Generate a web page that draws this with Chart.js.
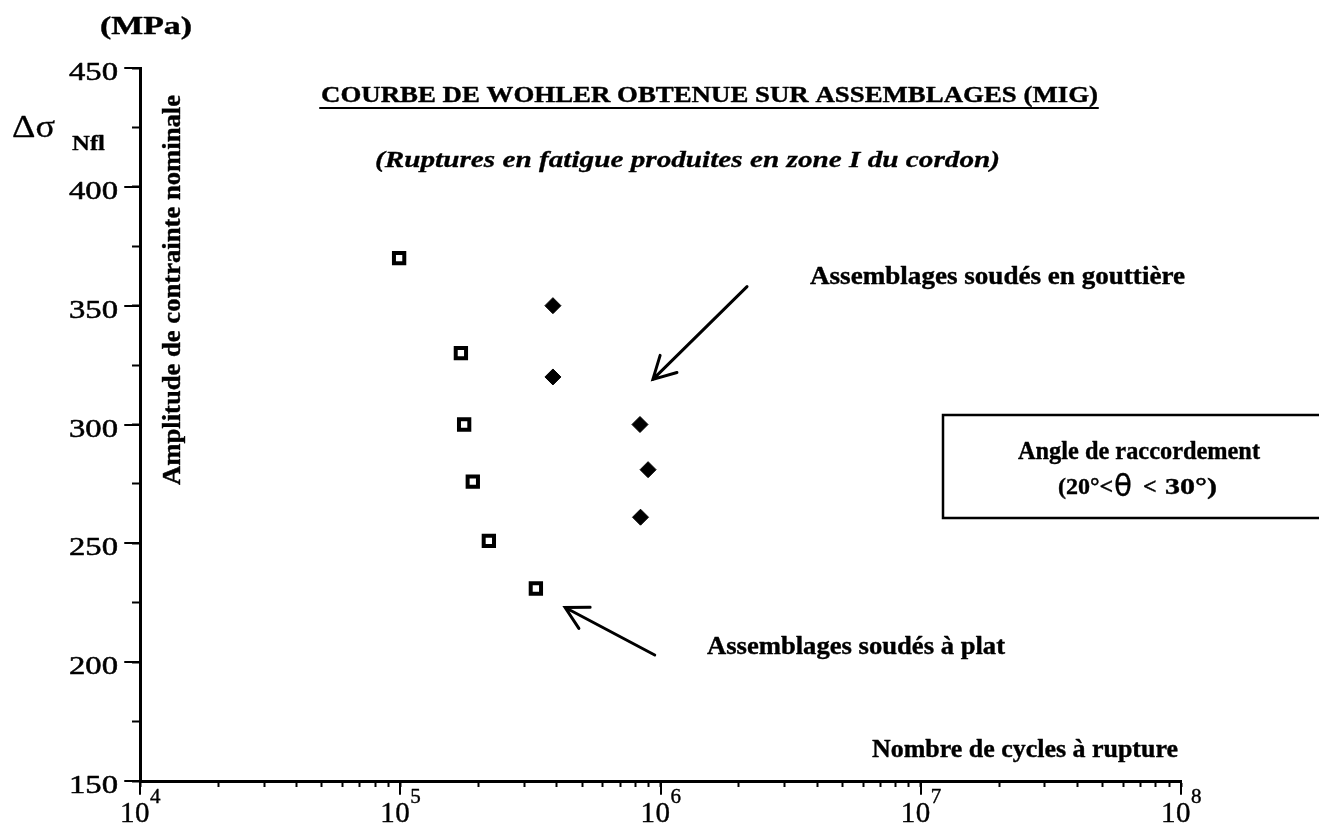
<!DOCTYPE html>
<html>
<head>
<meta charset="utf-8">
<title>Courbe de Wohler</title>
<script src="https://cdn.jsdelivr.net/npm/chart.js@4.4.1/dist/chart.umd.min.js"></script>
<style>
  html, body { margin: 0; padding: 0; background: #fff; }
  #wohler { display: block; }
</style>
</head>
<body>
<canvas id="wohler" width="1319" height="833"></canvas>
<script>
// essais de fatigue : nombre de cycles à rupture / amplitude (MPa)
const platCycles = [99000, 171000, 176000, 190000, 219000, 332000];
const platStress = [370, 330, 300, 276, 251, 231];
const goutCycles = [386000, 386000, 834000, 896000, 838000];
const goutStress = [350, 320, 300, 281, 261];

// axes
const xExponents = [4, 5, 6, 7, 8];
const xMinorSteps = [2, 3, 4, 5, 6, 7, 8, 9];
const yTickLabels = [150, 200, 250, 300, 350, 400, 450];

// flèches (coordonnées des données : cycles, MPa)
const arrowGout = { from: [2.15e6, 358], to: [9.35e5, 319] };
const arrowPlat = { from: [9.5e5, 203], to: [4.3e5, 223] };

const SERIF = '"Liberation Serif", "Times New Roman", Times, serif';

const toPoints = (xs, ys) => xs.map((x, i) => ({ x: x, y: ys[i] }));

const xDecades = xExponents.map(e => Math.pow(10, e));
const xTickValues = [];
xDecades.forEach((d, i) => {
  xTickValues.push(d);
  if (i < xDecades.length - 1) xMinorSteps.forEach(m => xTickValues.push(m * d));
});

// texte mis à la largeur voulue, avec un léger contour pour l'épaissir
function fitText(ctx, txt, x, y, font, width, stroke) {
  ctx.save();
  ctx.font = font;
  const w = ctx.measureText(txt).width;
  ctx.translate(x, y);
  ctx.scale(width ? width / w : 1, 1);
  ctx.textAlign = 'left';
  ctx.textBaseline = 'alphabetic';
  ctx.fillText(txt, 0, 0);
  if (stroke) {
    ctx.lineWidth = stroke;
    ctx.lineJoin = 'round';
    ctx.strokeText(txt, 0, 0);
  }
  ctx.restore();
}

function drawArrow(ctx, x1, y1, x2, y2) {
  const a = Math.atan2(y2 - y1, x2 - x1);
  const len = 25, spread = 0.5;
  ctx.beginPath();
  ctx.moveTo(x1, y1);
  ctx.lineTo(x2, y2);
  ctx.moveTo(x2 - len * Math.cos(a - spread), y2 - len * Math.sin(a - spread));
  ctx.lineTo(x2, y2);
  ctx.lineTo(x2 - len * Math.cos(a + spread), y2 - len * Math.sin(a + spread));
  ctx.stroke();
}

const annotations = {
  id: 'annotations',
  afterDraw(chart) {
    const ctx = chart.ctx;
    const xs = chart.scales.x, ys = chart.scales.y;
    const area = chart.chartArea;
    ctx.save();
    ctx.fillStyle = '#000';
    ctx.strokeStyle = '#000';
    ctx.lineCap = 'round';

    // graduations principales plus longues
    ctx.lineWidth = 2;
    ctx.beginPath();
    xDecades.forEach(v => {
      const px = Math.round(xs.getPixelForValue(v));
      ctx.moveTo(px, area.bottom);
      ctx.lineTo(px, area.bottom + 13);
    });
    yTickLabels.forEach(v => {
      const py = Math.round(ys.getPixelForValue(v));
      ctx.moveTo(area.left, py);
      ctx.lineTo(area.left - 15, py);
    });
    ctx.stroke();

    // étiquettes de l'axe Y
    yTickLabels.forEach(v => {
      const py = ys.getPixelForValue(v);
      fitText(ctx, String(v), area.left - 71, py + 12, '25px ' + SERIF, 49, 0.5);
    });

    // étiquettes de l'axe X : 10 puissance n
    xExponents.forEach((e, i) => {
      const px = xs.getPixelForValue(xDecades[i]);
      fitText(ctx, '1', px - 20, 822, '29px ' + SERIF, 0, 0.4);
      fitText(ctx, '0', px - 5, 822, '29px ' + SERIF, 0, 0.4);
      fitText(ctx, String(e), px + 10, 803, '21px ' + SERIF, 0, 0.4);
    });

    // unité et symbole
    fitText(ctx, '(MPa)', 100, 34, 'bold 25px ' + SERIF, 92, 0.4);
    fitText(ctx, '\u0394\u03c3', 12, 137, '32px ' + SERIF, 43, 0.3);
    fitText(ctx, 'Nfl', 72, 150, 'bold 21px ' + SERIF, 33, 0.3);

    // titre de l'axe Y
    ctx.save();
    ctx.font = 'bold 25px ' + SERIF;
    const tw = ctx.measureText('Amplitude de contrainte nominale').width;
    ctx.translate(180, 290);
    ctx.rotate(-Math.PI / 2);
    ctx.scale(390 / tw, 1);
    ctx.textAlign = 'center';
    ctx.textBaseline = 'alphabetic';
    ctx.fillText('Amplitude de contrainte nominale', 0, 0);
    ctx.lineWidth = 0.4;
    ctx.strokeText('Amplitude de contrainte nominale', 0, 0);
    ctx.restore();

    // titre et sous-titre
    fitText(ctx, 'COURBE DE WOHLER OBTENUE SUR ASSEMBLAGES (MIG)', 321, 102, 'bold 23px ' + SERIF, 777, 0.4);
    ctx.lineWidth = 2;
    ctx.beginPath();
    ctx.moveTo(320, 108);
    ctx.lineTo(1098, 108);
    ctx.stroke();
    fitText(ctx, '(Ruptures en fatigue produites en zone I du cordon)', 375, 167, 'italic bold 24px ' + SERIF, 625, 0.3);

    // légendes des séries
    fitText(ctx, 'Assemblages soud\u00e9s en goutti\u00e8re', 810, 284, 'bold 25px ' + SERIF, 375, 0.4);
    fitText(ctx, 'Assemblages soud\u00e9s \u00e0 plat', 707, 654, 'bold 25px ' + SERIF, 298, 0.4);
    fitText(ctx, 'Nombre de cycles \u00e0 rupture', 872, 757, 'bold 25px ' + SERIF, 306, 0.4);

    // cadre angle de raccordement
    ctx.lineWidth = 2.5;
    ctx.beginPath();
    ctx.moveTo(1319, 415);
    ctx.lineTo(943, 415);
    ctx.lineTo(943, 518);
    ctx.lineTo(1319, 518);
    ctx.stroke();
    fitText(ctx, 'Angle de raccordement', 1018, 459, 'bold 25px ' + SERIF, 242, 0.4);
    fitText(ctx, '(20\u00b0<', 1058, 494, 'bold 24px ' + SERIF, 0, 0.4);
    fitText(ctx, '\u03b8', 1114, 496, '30px "DejaVu Sans", sans-serif', 18, 0.3);
    fitText(ctx, '<', 1143, 494, 'bold 24px ' + SERIF, 0, 0.4);
    fitText(ctx, '30\u00b0)', 1165, 494, 'bold 24px ' + SERIF, 52, 0.4);

    // flèches
    ctx.lineWidth = 3;
    [arrowGout, arrowPlat].forEach(a => {
      drawArrow(ctx,
        xs.getPixelForValue(a.from[0]), ys.getPixelForValue(a.from[1]),
        xs.getPixelForValue(a.to[0]), ys.getPixelForValue(a.to[1]));
    });
    ctx.restore();
  }
};

new Chart(document.getElementById('wohler'), {
  type: 'scatter',
  data: {
    datasets: [{
      label: 'Assemblages soudés à plat',
      data: toPoints(platCycles, platStress),
      pointStyle: 'rect',
      pointRadius: 7.3,
      borderWidth: 4,
      borderColor: '#000',
      backgroundColor: '#fff'
    }, {
      label: 'Assemblages soudés à plat (centre)',
      data: toPoints(platCycles, platStress),
      pointStyle: 'circle',
      pointRadius: 1.5,
      borderWidth: 0,
      backgroundColor: '#000'
    }, {
      label: 'Assemblages soudés en gouttière',
      data: toPoints(goutCycles, goutStress),
      pointStyle: 'rectRot',
      pointRadius: 8,
      borderWidth: 1,
      borderColor: '#000',
      backgroundColor: '#000'
    }]
  },
  options: {
    responsive: false,
    animation: false,
    devicePixelRatio: 1,
    layout: { padding: { top: 68, right: 138, bottom: 0, left: 0 } },
    plugins: {
      legend: { display: false },
      tooltip: { enabled: false }
    },
    scales: {
      x: {
        type: 'logarithmic',
        min: 1e4,
        max: 1e8,
        afterBuildTicks: scale => { scale.ticks = xTickValues.map(v => ({ value: v })); },
        afterFit: scale => { scale.height = 52; },
        ticks: { display: false, autoSkip: false },
        grid: { drawOnChartArea: false, drawTicks: true, tickLength: 6, tickWidth: 2, tickColor: '#000' },
        border: { display: true, color: '#000', width: 3 }
      },
      y: {
        type: 'linear',
        min: 150,
        max: 450,
        ticks: { display: false, stepSize: 25 },
        afterFit: scale => { scale.width = 140; },
        grid: { drawOnChartArea: false, drawTicks: true, tickLength: 8, tickWidth: 2, tickColor: '#000' },
        border: { display: true, color: '#000', width: 3 }
      }
    }
  },
  plugins: [annotations]
});
</script>
</body>
</html>
